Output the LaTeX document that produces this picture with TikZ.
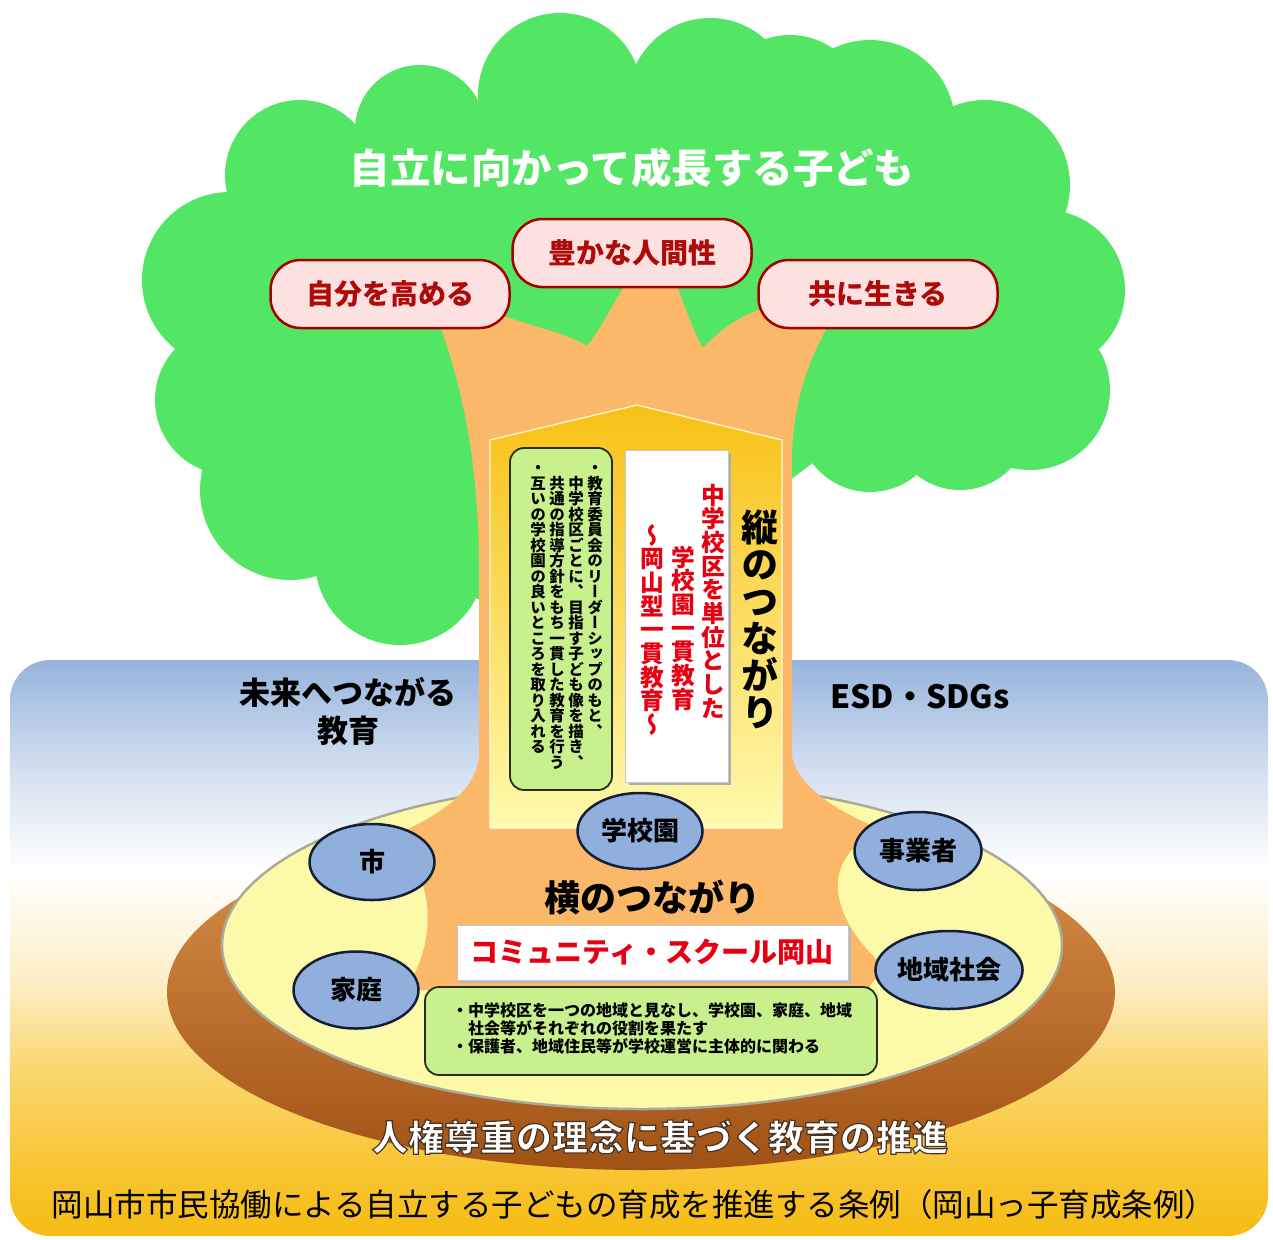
\documentclass[tikz,border=0pt]{standalone}
\usepackage{fontspec}
\usetikzlibrary{shapes.geometric}
\newfontfamily\jp{Noto Sans CJK JP}
\newfontfamily\jpv[RawFeature=+vert]{Noto Sans CJK JP}

% colours
\definecolor{leaf}{RGB}{82,230,100}
\definecolor{bark}{RGB}{250,184,104}
\definecolor{pillfill}{RGB}{253,224,224}
\definecolor{pillline}{RGB}{165,0,0}
\definecolor{pilltext}{RGB}{175,10,10}
\definecolor{notegreen}{RGB}{200,240,140}
\definecolor{noteline}{RGB}{40,45,30}
\definecolor{redtext}{RGB}{230,0,18}
\definecolor{blobfill}{RGB}{145,175,220}
\definecolor{blobline}{RGB}{20,30,55}
\definecolor{discyellow}{RGB}{252,250,168}
\definecolor{discrim}{RGB}{170,170,155}
\definecolor{brownlight}{RGB}{222,150,80}
\definecolor{browndark}{RGB}{160,82,20}
\definecolor{housetop}{RGB}{248,192,20}
\definecolor{housebottom}{RGB}{255,250,175}
\definecolor{sky}{RGB}{150,180,220}
\definecolor{skypale}{RGB}{212,224,240}
\definecolor{haze}{RGB}{255,255,255}
\definecolor{sand}{RGB}{253,238,198}
\definecolor{amberlight}{RGB}{250,214,110}
\definecolor{amber}{RGB}{248,198,55}
\definecolor{gold}{RGB}{246,188,18}

\pgfdeclareverticalshading{panelshade}{100bp}{color(0bp)=(gold); color(25bp)=(gold);
  color(31.5bp)=(amber); color(39.3bp)=(amberlight); color(47.2bp)=(sand);
  color(56.7bp)=(haze); color(65.4bp)=(skypale); color(75bp)=(sky); color(100bp)=(sky)}

% vertical column of characters, one em cell each
\makeatletter
\def\vcol@stop{\vcol@stop}
\def\vcol@next#1{\ifx#1\vcol@stop\else
  \hbox to 1em{\vrule height .88em depth .12em width 0pt\hss#1\hss}%
  \expandafter\vcol@next\fi}
\newcommand\vcol[1]{\vbox{\offinterlineskip\vcol@next#1\vcol@stop}}
\makeatother

% white lettering with a thin dark outline (fill + stroke text mode)
\newcommand\outlined[1]{\special{pdf:literal direct 0.28 0.2 0.14 RG 1.2 w 2 Tr}#1\special{pdf:literal direct 0 Tr}}

\tikzset{
  pill/.style={rectangle, draw=pillline, line width=2.5pt, fill=pillfill,
    rounded corners=30pt, minimum width=239pt, minimum height=68pt, inner sep=0pt,
    text=pilltext, font=\jp\bfseries\fontsize{28}{30}\selectfont},
  blob/.style={ellipse, draw=blobline, line width=2.5pt, fill=blobfill,
    minimum width=125pt, minimum height=76pt, inner sep=0pt,
    font=\jp\bfseries\fontsize{26}{28}\selectfont},
  notebox/.style={rectangle, rounded corners=14pt, draw=noteline, line width=1.8pt,
    fill=notegreen, inner sep=0pt},
  paper/.style={rectangle, fill=white, draw=gray!45, line width=0.8pt, inner sep=0pt},
  vsmall/.style={anchor=north, inner sep=0pt, font=\jpv\bfseries\fontsize{15.5}{15.5}\selectfont},
  vred/.style={anchor=north, inner sep=0pt, text=redtext, font=\jpv\bfseries\fontsize{23.7}{23.7}\selectfont},
  label/.style={inner sep=0pt, font=\jp\bfseries\fontsize{#1}{#1}\selectfont},
}

\begin{document}
\begin{tikzpicture}[x=1pt, y=-1pt]
\useasboundingbox (0,0) rectangle (1273,1239);

% ground panel
\shade[shading=panelshade, rounded corners=40pt] (10,660) rectangle (1268,1236);

% foliage
\fill[leaf] (560,95) -- (710,100) -- (790,110) -- (870,125) -- (985,185) -- (1045,290)
  -- (1030,390) -- (960,420) -- (870,420) -- (790,480) -- (480,600) -- (400,560)
  -- (290,490) -- (230,400) -- (230,280) -- (300,175) -- (420,130) -- cycle;
\foreach \cx/\cy/\r in {560/95/82, 710/100/82, 790/110/75, 870/125/85, 985/185/85,
  1045/290/80, 1030/390/80, 960/420/70, 870/420/72, 400/560/85, 290/490/90,
  230/400/75, 230/280/88, 300/175/75, 420/130/65}
  \fill[leaf] (\cx,\cy) circle[radius=\r pt];

% disc
\shade[top color=brownlight, bottom color=browndark] (641,992) ellipse[x radius=474pt, y radius=178pt];
\filldraw[fill=discyellow, draw=discrim, line width=2.5pt] (642,945) ellipse[x radius=420pt, y radius=164pt];

% trunk with branches and root flare
\fill[bark] (436,315) -- (500,315)
  .. controls (540,328) and (570,335) .. (587,346)
  .. controls (600,330) and (615,300) .. (628,280)
  -- (675,280)
  .. controls (685,308) and (695,335) .. (703,348)
  .. controls (720,330) and (745,310) .. (778,305)
  -- (835,315)
  .. controls (815,345) and (795,390) .. (792,450)
  -- (792,757)
  .. controls (800,790) and (840,812) .. (882,830)
  .. controls (820,855) and (825,915) .. (886,968)
  -- (870,985) -- (870,1040) -- (440,1040) -- (440,990) -- (405,990)
  .. controls (432,950) and (442,890) .. (395,835)
  .. controls (440,815) and (475,792) .. (479,757)
  -- (479,560)
  .. controls (478,470) and (465,390) .. (436,315) -- cycle;

% house panel on the trunk
\shadedraw[top color=housetop, bottom color=housebottom, draw=white!60!housebottom, line width=1.2pt]
  (490,828) -- (490,440) -- (637,405) -- (782,440) -- (782,828) -- cycle;

\node[notebox, minimum width=102pt, minimum height=342pt] (leadbox) at (561,619) {};
\node[vsmall] (lead1) at (595,460) {\vcol{・教育委員会のリーダーシップのもと、}};
\node[vsmall] (lead2) at (576,460) {\vcol{　中学校区ごとに、目指す子ども像を描き、}};
\node[vsmall] (lead3) at (557,460) {\vcol{　共通の指導方針をもち一貫した教育を行う}};
\node[vsmall] (lead4) at (538,460) {\vcol{・互いの学校園の良いところを取り入れる}};

\fill[gray!65] (629,454) rectangle (731,785);
\node[paper, minimum width=103pt, minimum height=332pt] (axisbox) at (676.5,616) {};
\node[vred] (axis1) at (713,483) {\vcol{中学校区を単位とした}};
\node[vred] (axis2) at (683,545) {\vcol{学校園一貫教育}};
\node[vred] (axis3) at (652,523) {\vcol{～岡山型一貫教育～}};

\node[anchor=north, inner sep=0pt, font=\jpv\bfseries\fontsize{37}{37}\selectfont] (tate) at (760,509) {\vcol{縦のつながり}};

% canopy labels
\node[pill] (selfup) at (390,294) {自分を高める};
\node[pill] (humanity) at (632,253) {豊かな人間性};
\node[pill] (together) at (878,294) {共に生きる};

\node[label=40.5, text=white] (title) at (632,168) {自立に向かって成長する子ども};

% partners on the disc
\node[blob] (city) at (372,862) {市};
\node[blob] (school) at (640,831) {学校園};
\node[blob, minimum width=127pt, minimum height=78pt] (business) at (918,851) {事業者};
\node[blob, minimum height=77pt] (home) at (356,990) {家庭};
\node[blob, minimum width=137pt, minimum height=78pt] (community) at (949,970) {地域社会};

\node[label=36] (yoko) at (652,897) {横のつながり};

\fill[gray!55] (460,928) rectangle (851,983);
\node[paper, minimum width=391pt, minimum height=55pt] (csbox) at (652.5,952.5) {};
\node[label=28, text=redtext] (cs) at (652,952) {コミュニティ・スクール岡山};

\node[notebox, minimum width=452pt, minimum height=88pt] (note) at (651,1031) {};
\node[anchor=north west, inner sep=0pt, align=left, font=\jp\bfseries\fontsize{16}{18}\selectfont] (notetext) at (452,1003)
  {・中学校区を一つの地域と見なし、学校園、家庭、地域\\　社会等がそれぞれの役割を果たす\\・保護者、地域住民等が学校運営に主体的に関わる};

% side labels
\node[align=center, inner sep=0pt, font=\jp\bfseries\fontsize{31}{38}\selectfont] (future) at (348,711) {未来へつながる\\教育};
\node[label=32] (esd) at (920,697) {ESD・SDGs};

% principle on the rim
\node[label=36, text=white] (rights) at (660,1137) {\outlined{人権尊重の理念に基づく教育の推進}};

% ordinance
\node[inner sep=0pt, font=\jp\fontsize{31.5}{33}\selectfont] (ordinance) at (634,1205)
  {岡山市市民協働による自立する子どもの育成を推進する条例（岡山っ子育成条例）};
\end{tikzpicture}
\end{document}
